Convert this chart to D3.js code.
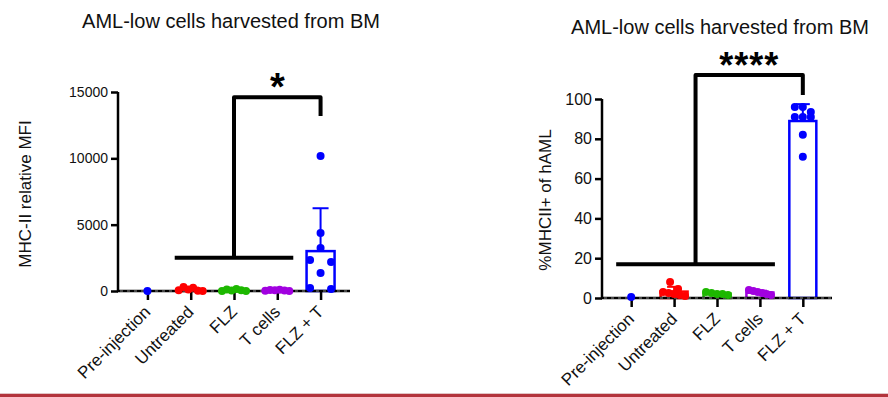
<!DOCTYPE html>
<html><head><meta charset="utf-8">
<script src="https://cdn.jsdelivr.net/npm/d3@7"></script>
<style>
html,body{margin:0;padding:0;background:#fff;}
svg{display:block;font-family:"Liberation Sans",Arial,Helvetica,sans-serif;}
</style></head>
<body>
<svg id="chart" width="888" height="397"></svg>
<script>
// ---- data ----
const categories = ["Pre-injection", "Untreated", "FLZ", "T cells", "FLZ + T"];
const groupColors = ["#0000FF", "#FF0000", "#1DB800", "#A100E0", "#0000FF"];

// Left panel: MHC-II relative MFI
const mfiPre = [0];
const mfiUntreated = [60, 300, 120, 240, 20, 0];
const mfiFLZ = [0, 120, 40, 160, 60, 0];
const mfiTcells = [20, 80, 60, 100, 40, 0];
const mfiFLZT = [10180, 4370, 3240, 2340, 2190, 1350, 230, 150];
const mfiTicks = [0, 5000, 10000, 15000];

// Right panel: %MHCII+ of hAML
const pctPre = [0.5];
const pctUntreated = [8, 4.5, 3, 2.5, 2, 1.5, 1];
const pctFLZ = [3, 2.5, 2, 2, 1.5];
const pctTcells = [4, 3.5, 3, 2.5, 2, 1.5];
const pctFLZT = [96, 96, 93.5, 91, 91, 91, 82, 71];
const pctTicks = [0, 20, 40, 60, 80, 100];

const titleText = "AML-low cells harvested from BM";

const svg = d3.select("#chart");

function drawPanel(cfg) {
  const g = svg.append("g");
  const x = d3.scalePoint().domain(categories).range([cfg.x0, cfg.x1]).padding(0.68);
  const y = d3.scaleLinear().domain([0, cfg.yMax]).range([cfg.yBottom, cfg.yTop]);
  const groups = cfg.values.map((vals, i) => {
    const mean = d3.mean(vals);
    const sd = vals.length > 1 ? d3.deviation(vals) : 0;
    return { cat: categories[i], vals, mean, sd, color: groupColors[i] };
  });

  // title
  g.append("text").attr("x", cfg.titleX).attr("y", cfg.titleY)
    .attr("text-anchor", "middle").attr("font-size", 20).attr("fill", "#111")
    .text(titleText);

  // y label
  g.append("text")
    .attr("transform", `translate(${cfg.ylabX},${cfg.ylabY}) rotate(-90)`)
    .attr("text-anchor", "middle").attr("font-size", 17).attr("fill", "#111")
    .text(cfg.ylabel);

  // bars
  g.selectAll("rect.bar").data(groups.filter(d => d.vals.length > 1)).join("rect")
    .attr("class", "bar")
    .attr("x", d => x(d.cat) - cfg.barW / 2)
    .attr("width", cfg.barW)
    .attr("y", d => y(d.mean))
    .attr("height", d => y(0) - y(d.mean))
    .attr("fill", "#fff").attr("stroke", d => d.color).attr("stroke-width", 2.5);

  // error bars (mean + SD)
  const eb = g.selectAll("g.eb").data(groups.filter(d => d.vals.length > 1)).join("g");
  eb.append("line")
    .attr("x1", d => x(d.cat)).attr("x2", d => x(d.cat))
    .attr("y1", d => y(d.mean)).attr("y2", d => y(d.mean + d.sd))
    .attr("stroke", d => d.color).attr("stroke-width", 2);
  eb.append("line")
    .attr("x1", d => x(d.cat) - cfg.capW / 2).attr("x2", d => x(d.cat) + cfg.capW / 2)
    .attr("y1", d => y(d.mean + d.sd)).attr("y2", d => y(d.mean + d.sd))
    .attr("stroke", d => d.color).attr("stroke-width", 2);

  // axes
  const yAxis = d3.axisLeft(y).tickValues(cfg.ticks).tickSize(7).tickPadding(3).tickFormat(d3.format("d"));
  const ya = g.append("g").attr("transform", `translate(${cfg.x0},0)`).call(yAxis);
  ya.select(".domain").attr("stroke", "#000").attr("stroke-width", 2.5)
    .attr("d", `M0,${cfg.yTop}V${cfg.yBottom}`);
  ya.selectAll(".tick line").attr("stroke", "#000").attr("stroke-width", 2.5);
  ya.selectAll(".tick text").attr("font-size", cfg.tickFont).attr("fill", "#111")
    .attr("font-family", "Liberation Sans, Arial, sans-serif");

  const xAxis = d3.axisBottom(x).tickSize(9).tickFormat("");
  const xa = g.append("g").attr("transform", `translate(0,${cfg.yBottom})`).call(xAxis);
  xa.select(".domain").attr("stroke", "#000").attr("stroke-width", 2.5)
    .attr("d", `M${cfg.x0 - 1},0H${cfg.x1}`);
  xa.selectAll(".tick line").attr("stroke", "#000").attr("stroke-width", 2.5);
  // dashed baseline effect
  g.append("line").attr("x1", cfg.x0 + 2).attr("x2", cfg.x1).attr("y1", cfg.yBottom).attr("y2", cfg.yBottom)
    .attr("stroke", "#fff").attr("stroke-width", 0.7).attr("stroke-dasharray", "3,4").attr("opacity", 0.8);

  // x labels
  g.selectAll("text.xl").data(categories).join("text")
    .attr("class", "xl")
    .attr("transform", d => `translate(${x(d) + 4},${cfg.yBottom + 22}) rotate(-45)`)
    .attr("text-anchor", "end").attr("font-size", 17).attr("fill", "#111")
    .text(d => d);

  // points (row-based swarm)
  const r = 4;
  groups.forEach(grp => {
    const pts = grp.vals.map((v, i) => ({ v, i, py: y(v) }));
    const sorted = pts.slice().sort((a, b) => a.py - b.py);
    const rows = [];
    sorted.forEach(p => {
      const last = rows[rows.length - 1];
      if (last && p.py - last[0].py < 2 * r * 0.95) last.push(p); else rows.push([p]);
    });
    rows.forEach(row => {
      row.sort((a, b) => a.i - b.i);
      const n = row.length;
      const step = n > 1 ? Math.min(cfg.maxStep, cfg.rowW / (n - 1)) : 0;
      row.forEach((p, k) => { p.px = x(grp.cat) + (k - (n - 1) / 2) * step; });
    });
    g.selectAll(null).data(pts).join("circle")
      .attr("cx", d => d.px).attr("cy", d => d.py).attr("r", r)
      .attr("fill", grp.color);
  });

  // significance bracket
  const b = cfg.bracket;
  const bx0 = x(b.from) - b.ext, bx1 = x(b.to) + b.ext;
  const mid = (bx0 + bx1) / 2;
  const xr = x(b.target);
  g.append("path")
    .attr("d", `M${bx0},${y(b.low)}H${bx1}M${mid},${y(b.low)}V${y(b.high)}H${xr}V${y(b.leg)}`)
    .attr("fill", "none").attr("stroke", "#000").attr("stroke-width", 4)
    .attr("stroke-linejoin", "round");
  g.append("text").attr("x", (mid + xr) / 2).attr("y", y(b.high) + b.starDy)
    .attr("text-anchor", "middle").attr("font-size", b.starSize).attr("font-weight", "bold")
    .attr("letter-spacing", b.spacing).attr("fill", "#000")
    .text(b.label);
}

drawPanel({
  x0: 118, x1: 350, yBottom: 291, yTop: 92, yMax: 15000, ticks: mfiTicks,
  values: [mfiPre, mfiUntreated, mfiFLZ, mfiTcells, mfiFLZT],
  titleX: 231, titleY: 28, ylabX: 31, ylabY: 194, ylabel: "MHC-II relative MFI",
  tickFont: 14, barW: 28, capW: 16, maxStep: 21, rowW: 24,
  bracket: { from: "Untreated", to: "T cells", ext: 16, target: "FLZ + T", low: 2500, high: 14600, leg: 13200,
             label: "*", starSize: 38, starDy: 3, spacing: 0 }
});

drawPanel({
  x0: 602, x1: 832, yBottom: 298, yTop: 99, yMax: 100, ticks: pctTicks,
  values: [pctPre, pctUntreated, pctFLZ, pctTcells, pctFLZT],
  titleX: 720, titleY: 34, ylabX: 551, ylabY: 200, ylabel: "%MHCII+ of hAML",
  tickFont: 16, barW: 27, capW: 14, maxStep: 8, rowW: 22,
  bracket: { from: "Pre-injection", to: "T cells", ext: 15, target: "FLZ + T", low: 17, high: 112, leg: 102,
             label: "****", starSize: 36, starDy: 3, spacing: 1 }
});

// bottom border
svg.append("rect").attr("x", 0).attr("y", 393).attr("width", 888).attr("height", 1).attr("fill", "#e2c4c6");
svg.append("rect").attr("x", 0).attr("y", 394).attr("width", 888).attr("height", 3).attr("fill", "#b3343c");
</script>
</body></html>
